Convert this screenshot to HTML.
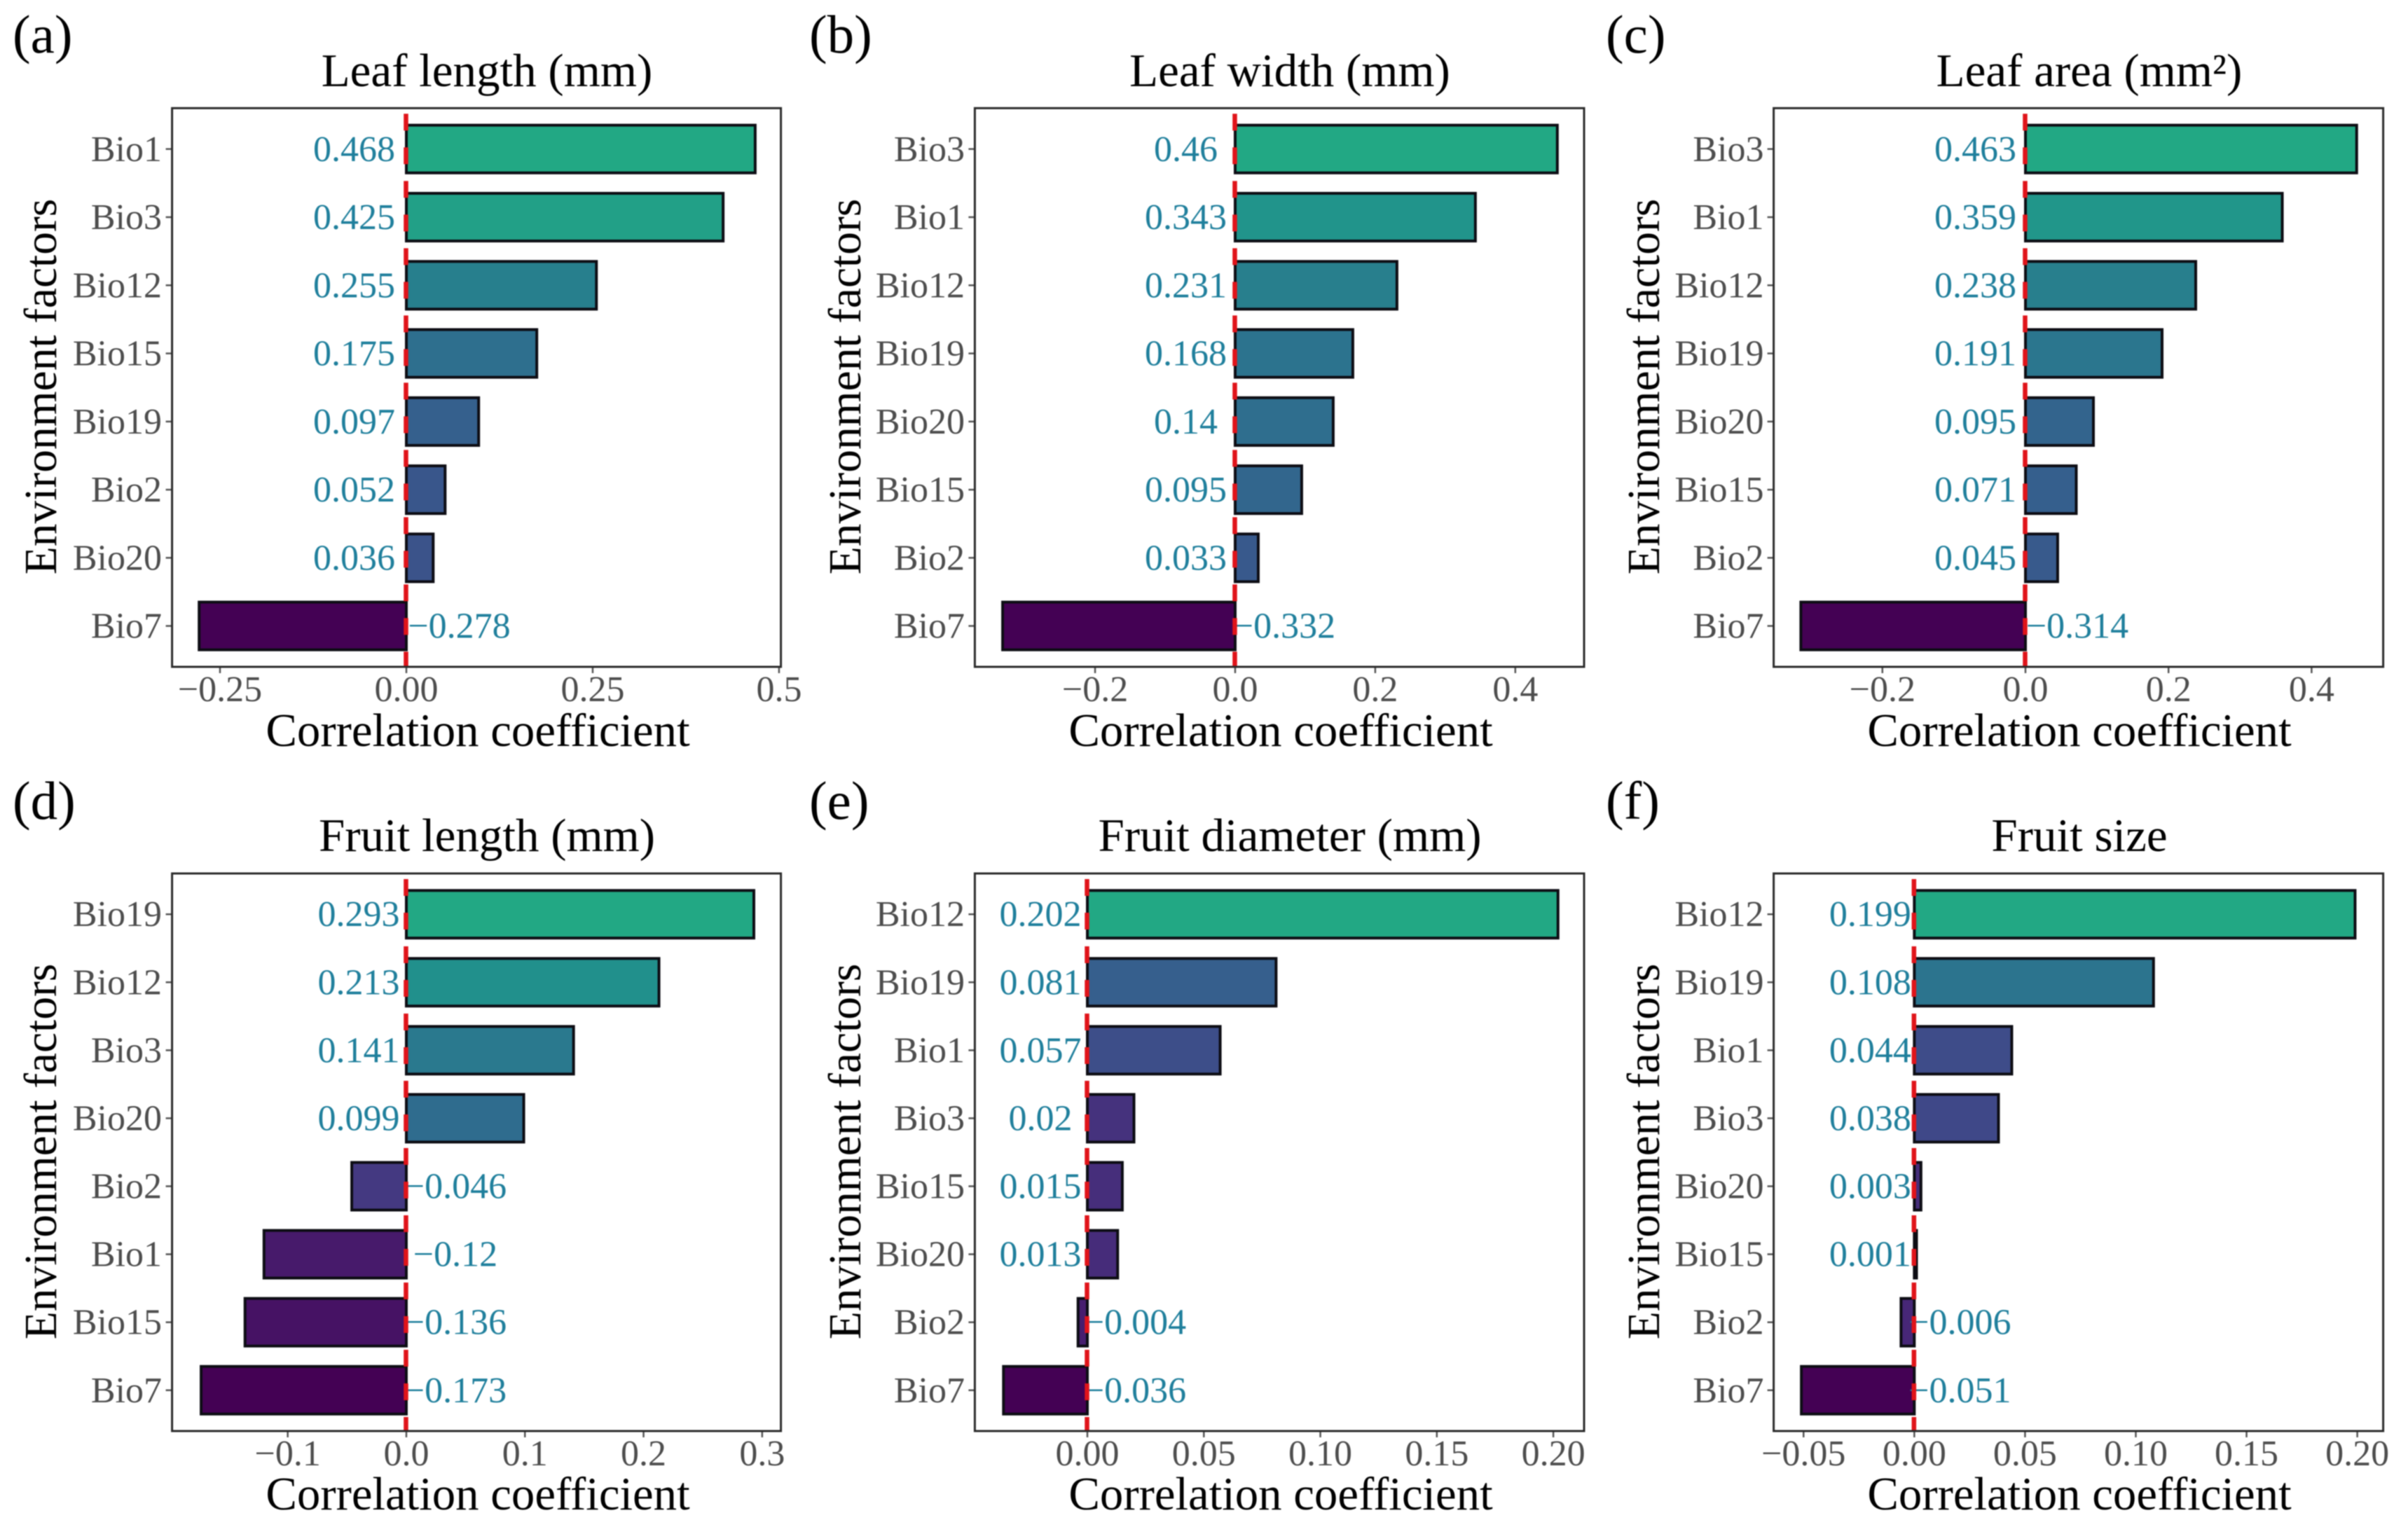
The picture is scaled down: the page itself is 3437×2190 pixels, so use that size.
<!DOCTYPE html>
<html lang="en">
<head>
<meta charset="utf-8">
<title>Correlation coefficients of environment factors</title>
<style>
html,body{margin:0;padding:0;background:#fff;}
svg{display:block;font-family:"Liberation Serif","Noto Serif CJK SC",serif;filter:blur(0.7px);}
.panel-tag{font-size:77px;fill:#000;}
.chart-title{font-size:67px;fill:#000;text-anchor:middle;}
.axis-title{font-size:66.8px;fill:#000;text-anchor:middle;}
.axis-title-y{font-size:65.5px;}
.tick-label{font-size:52px;fill:#4d4d4d;}
.value-label{font-size:52px;fill:#1f7f9c;text-anchor:middle;}
</style>
</head>
<body>
<svg id="figure" xmlns="http://www.w3.org/2000/svg" width="3437" height="2190" viewBox="0 0 3437 2190">
  <rect x="0" y="0" width="3437" height="2190" fill="#fff"/>

  <g id="panel-a">
    <text class="panel-tag" x="18" y="75">(a)</text>
    <text class="chart-title" x="695" y="123">Leaf length (mm)</text>
    <text class="axis-title" x="682" y="1065">Correlation coefficient</text>
    <text class="axis-title axis-title-y" transform="translate(80 552) rotate(-90)">Environment factors</text>
  </g>
  <g id="panel-b">
    <text class="panel-tag" x="1155" y="75">(b)</text>
    <text class="chart-title" x="1841" y="123">Leaf width (mm)</text>
    <text class="axis-title" x="1828" y="1065">Correlation coefficient</text>
    <text class="axis-title axis-title-y" transform="translate(1228 552) rotate(-90)">Environment factors</text>
  </g>
  <g id="panel-c">
    <text class="panel-tag" x="2292" y="75">(c)</text>
    <text class="chart-title" x="2982" y="123">Leaf area (mm²)</text>
    <text class="axis-title" x="2968" y="1065">Correlation coefficient</text>
    <text class="axis-title axis-title-y" transform="translate(2368 552) rotate(-90)">Environment factors</text>
  </g>
  <g id="panel-d">
    <text class="panel-tag" x="18" y="1169">(d)</text>
    <text class="chart-title" x="695" y="1215">Fruit length (mm)</text>
    <text class="axis-title" x="682" y="2155">Correlation coefficient</text>
    <text class="axis-title axis-title-y" transform="translate(80 1644) rotate(-90)">Environment factors</text>
  </g>
  <g id="panel-e">
    <text class="panel-tag" x="1155" y="1169">(e)</text>
    <text class="chart-title" x="1841" y="1215">Fruit diameter (mm)</text>
    <text class="axis-title" x="1828" y="2155">Correlation coefficient</text>
    <text class="axis-title axis-title-y" transform="translate(1228 1644) rotate(-90)">Environment factors</text>
  </g>
  <g id="panel-f">
    <text class="panel-tag" x="2292" y="1169">(f)</text>
    <text class="chart-title" x="2968" y="1215">Fruit size</text>
    <text class="axis-title" x="2968" y="2155">Correlation coefficient</text>
    <text class="axis-title axis-title-y" transform="translate(2368 1644) rotate(-90)">Environment factors</text>
  </g>
</svg>
<script>
// ---- Data: one set of small arrays for each panel ----
const categoriesA = ['Bio1','Bio3','Bio12','Bio15','Bio19','Bio2','Bio20','Bio7'];
const valuesA = [0.468,0.425,0.255,0.175,0.097,0.052,0.036,-0.278];
const tickValuesA = [-0.25,0,0.25,0.5];
const tickLabelsA = ['\u22120.25','0.00','0.25','0.5'];

const categoriesB = ['Bio3','Bio1','Bio12','Bio19','Bio20','Bio15','Bio2','Bio7'];
const valuesB = [0.46,0.343,0.231,0.168,0.14,0.095,0.033,-0.332];
const tickValuesB = [-0.2,0,0.2,0.4];
const tickLabelsB = ['\u22120.2','0.0','0.2','0.4'];

const categoriesC = ['Bio3','Bio1','Bio12','Bio19','Bio20','Bio15','Bio2','Bio7'];
const valuesC = [0.463,0.359,0.238,0.191,0.095,0.071,0.045,-0.314];
const tickValuesC = [-0.2,0,0.2,0.4];
const tickLabelsC = ['\u22120.2','0.0','0.2','0.4'];

const categoriesD = ['Bio19','Bio12','Bio3','Bio20','Bio2','Bio1','Bio15','Bio7'];
const valuesD = [0.293,0.213,0.141,0.099,-0.046,-0.12,-0.136,-0.173];
const tickValuesD = [-0.1,0,0.1,0.2,0.3];
const tickLabelsD = ['\u22120.1','0.0','0.1','0.2','0.3'];

const categoriesE = ['Bio12','Bio19','Bio1','Bio3','Bio15','Bio20','Bio2','Bio7'];
const valuesE = [0.202,0.081,0.057,0.02,0.015,0.013,-0.004,-0.036];
const tickValuesE = [0,0.05,0.1,0.15,0.2];
const tickLabelsE = ['0.00','0.05','0.10','0.15','0.20'];

const categoriesF = ['Bio12','Bio19','Bio1','Bio3','Bio20','Bio15','Bio2','Bio7'];
const valuesF = [0.199,0.108,0.044,0.038,0.003,0.001,-0.006,-0.051];
const tickValuesF = [-0.05,0,0.05,0.1,0.15,0.2];
const tickLabelsF = ['\u22120.05','0.00','0.05','0.10','0.15','0.20'];

// ---- Layout (not data) ----
const row1 = {top:154.4, bottom:952};
const row2 = {top:1247, bottom:2043};
const col1 = {left:245.6, right:1114.6, labelRight:231};
const col2 = {left:1391.4, right:2261, labelRight:1377};
const col3 = {left:2531.6, right:3401.6, labelRight:2517.5};

const panels = [
  {id:'a', cats:categoriesA, vals:valuesA, ticks:tickValuesA, tickText:tickLabelsA, col:col1, row:row1, domain:[-0.3143,0.5025], posGap:74.5, negGap:75.5},
  {id:'b', cats:categoriesB, vals:valuesB, ticks:tickValuesB, tickText:tickLabelsB, col:col2, row:row1, domain:[-0.3717,0.4982], posGap:70.5, negGap:70},
  {id:'c', cats:categoriesC, vals:valuesC, ticks:tickValuesC, tickText:tickLabelsC, col:col3, row:row1, domain:[-0.352,0.5001], posGap:71.5, negGap:74},
  {id:'d', cats:categoriesD, vals:valuesD, ticks:tickValuesD, tickText:tickLabelsD, col:col1, row:row2, domain:[-0.1975,0.3158], posGap:68, negGap:70},
  {id:'e', cats:categoriesE, vals:valuesE, ticks:tickValuesE, tickText:tickLabelsE, col:col2, row:row2, domain:[-0.0483,0.2132], posGap:67, negGap:68},
  {id:'f', cats:categoriesF, vals:valuesF, ticks:tickValuesF, tickText:tickLabelsF, col:col3, row:row2, domain:[-0.0635,0.2117], posGap:63, negGap:65}
];

const viridisStops = ['#440154','#482576','#414487','#35608d','#2a788e','#21918c','#22a884'];

function hexToRgb(h){
  return [parseInt(h.slice(1,3),16),parseInt(h.slice(3,5),16),parseInt(h.slice(5,7),16)];
}
function fillFor(t){
  const p = Math.max(0,Math.min(1,t))*(viridisStops.length-1);
  const i = Math.min(Math.floor(p),viridisStops.length-2);
  const a = hexToRgb(viridisStops[i]);
  const b = hexToRgb(viridisStops[i+1]);
  const f = p-i;
  return 'rgb('+a.map((c,k)=>Math.round(c+(b[k]-c)*f)).join(',')+')';
}
function make(tag,parent){
  const node = document.createElementNS('http://www.w3.org/2000/svg',tag);
  parent.appendChild(node);
  return node;
}
function put(node,attrs){
  for(const k in attrs){node.setAttribute(k,attrs[k]);}
}
function printed(v){
  return (v<0?'\u2212':'')+String(Math.abs(v));
}

panels.forEach(function(p){
  const g = document.getElementById('panel-'+p.id);
  const L = p.col.left, R = p.col.right, T = p.row.top, B = p.row.bottom;
  const xScale = function(v){return L+(v-p.domain[0])/(p.domain[1]-p.domain[0])*(R-L);};
  // discrete axis: n categories span n-1 steps, plus 0.6 step of padding on each end
  const band = (B-T)/(p.cats.length-1+1.2);
  const yScale = function(i){return T+(i+0.6)*band;};
  const barH = band*0.7;
  const vMin = Math.min.apply(null,p.vals);
  const vMax = Math.max.apply(null,p.vals);
  const zero = xScale(0);

  // x ticks
  p.ticks.forEach(function(t,i){
    const x = xScale(t);
    const mark = make('line',g);
    put(mark,{x1:x,x2:x,y1:B,y2:B+9,stroke:'#555','stroke-width':2.5});
    
    
    const lab = make('text',g);
    put(lab,{x:x,y:B+49,'text-anchor':'middle',class:'tick-label'});
    lab.textContent = p.tickText[i];
    
    
  });

  // y ticks, bars and value labels
  p.cats.forEach(function(c,i){
    const y = yScale(i);
    const v = p.vals[i];

    const mark = make('line',g);
    put(mark,{x1:L-9,x2:L,y1:y,y2:y,stroke:'#555','stroke-width':2.5});
    
    

    const lab = make('text',g);
    put(lab,{x:p.col.labelRight,y:y+17,'text-anchor':'end',class:'tick-label'});
    lab.textContent = c;
    
    

    const x0 = Math.min(xScale(v),zero);
    const x1 = Math.max(xScale(v),zero);
    const bar = make('rect',g);
    put(bar,{x:x0,y:y-barH/2,width:x1-x0,height:barH,fill:fillFor((v-vMin)/(vMax-vMin)),stroke:'#0d0d14','stroke-width':4});
    
    

    const val = make('text',g);
    put(val,{x:v<0?zero+p.negGap:zero-p.posGap,y:y+17,class:'value-label'});
    val.textContent = printed(v);
    
    
  });

  // dashed zero line
  const zeroLine = make('line',g);
  put(zeroLine,{x1:zero-0.5,x2:zero-0.5,y1:T+8,y2:B-1,stroke:'#e0141a','stroke-width':6.5,'stroke-dasharray':'24 24'});
  
  

  // panel frame
  const frame = make('rect',g);
  put(frame,{x:L,y:T,width:R-L,height:B-T,fill:'none',stroke:'#2b2b2b','stroke-width':3});
  
  
});
</script>
</body>
</html>
